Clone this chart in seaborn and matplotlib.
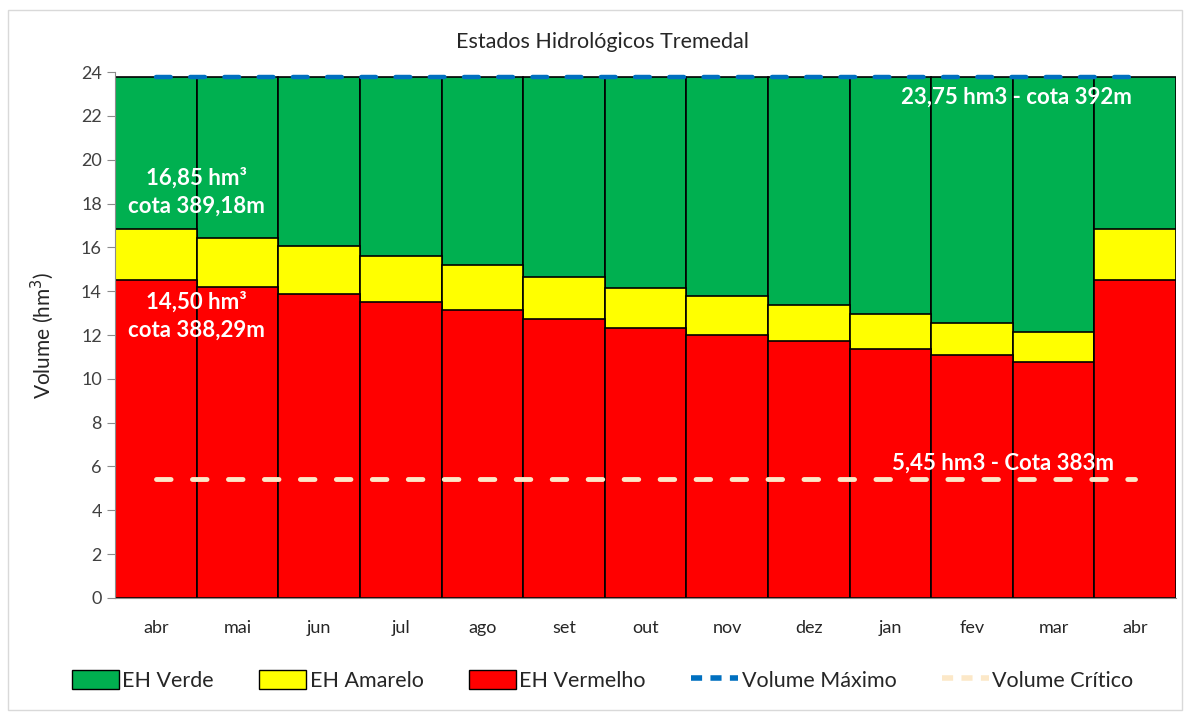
import matplotlib
matplotlib.use("Agg")
import matplotlib.pyplot as plt
import matplotlib.patches as mpatches
from matplotlib.lines import Line2D
from matplotlib.ticker import MultipleLocator, FixedLocator
import numpy as np
import pandas as pd
import seaborn as sns

months = ["abr", "mai", "jun", "jul", "ago", "set", "out", "nov", "dez", "jan", "fev", "mar", "abr"]
vermelho = [14.50, 14.17, 13.87, 13.52, 13.14, 12.73, 12.30, 12.00, 11.72, 11.37, 11.09, 10.78, 14.50]
amarelo = [16.85, 16.44, 16.06, 15.62, 15.18, 14.64, 14.13, 13.76, 13.37, 12.96, 12.53, 12.15, 16.85]
verde = [23.75] * 13
vol_max = [23.75] * 13
vol_crit = [5.45] * 13

pos = list(range(len(months)))
df = pd.DataFrame({"pos": pos, "verde": verde, "amarelo": amarelo,
                   "vermelho": vermelho, "vmax": vol_max, "vcrit": vol_crit})

sns.set_style("white")
plt.rcParams["font.family"] = ["Lato", "DejaVu Sans"]

fig = plt.figure(figsize=(11.86, 7.13), dpi=100)
ax = fig.add_axes([0.097, 0.1613, 0.8946, 0.7377])

green, yellow, red = "#00B050", "#FFFF00", "#FF0000"
blue, cream = "#0070C0", "#FCE8C8"

for col, c in [("verde", green), ("amarelo", yellow), ("vermelho", red)]:
    sns.barplot(data=df, x="pos", y=col, color=c, width=1.0, edgecolor="black",
                linewidth=1.2, saturation=1, ax=ax)

sns.lineplot(data=df, x="pos", y="vmax", ax=ax, color=blue, linewidth=3.2)
sns.lineplot(data=df, x="pos", y="vcrit", ax=ax, color=cream, linewidth=3.5)
for ln in ax.lines[-2:]:
    ln.set_dash_capstyle("round")
ax.lines[-2].set_dashes([3.3, 4.4])
ax.lines[-1].set_dashes([3.0, 4.4])

ax.set_xlim(-0.5, 12.5)
ax.set_ylim(0, 24)
ax.set_xticks(pos)
ax.set_xticklabels(months, fontsize=13, color="#262626")
ax.xaxis.set_minor_locator(FixedLocator(np.arange(-0.5, 13, 1)))
ax.tick_params(axis="x", which="major", length=0, pad=16)
ax.tick_params(axis="x", which="minor", length=7, color="#8C8C8C", direction="out")
ax.yaxis.set_major_locator(MultipleLocator(2))
ax.yaxis.set_minor_locator(MultipleLocator(0.4))
ax.tick_params(axis="y", which="major", length=6, color="#8C8C8C", direction="out",
               labelsize=13, labelcolor="#404040", left=True)
ax.tick_params(axis="y", which="minor", length=3.5, color="#A6A6A6", direction="in", left=True)

for s in ["top", "right"]:
    ax.spines[s].set_visible(False)
for s in ["left", "bottom"]:
    ax.spines[s].set_color("#8C8C8C")

ax.set_xlabel("")
ax.set_ylabel("Volume (hm$^3$)", fontsize=15, color="#262626", labelpad=18)
fig.text(0.508, 0.941, "Estados Hidrológicos Tremedal", fontsize=15.5, color="#262626",
         ha="center", va="center")

tk = dict(color="white", fontweight="bold", fontsize=16, ha="center", va="center")
ax.text(0.5, 19.15, "16,85 hm³", **tk)
ax.text(0.5, 17.88, "cota 389,18m", **tk)
ax.text(0.5, 13.5, "14,50 hm³", **tk)
ax.text(0.5, 12.2, "cota 388,29m", **tk)
ax.text(10.55, 22.84, "23,75 hm3 - cota 392m", **tk)
ax.text(10.38, 6.16, "5,45 hm3 - Cota 383m", **tk)

handles = [
    mpatches.Patch(facecolor=green, edgecolor="black", label="EH Verde"),
    mpatches.Patch(facecolor=yellow, edgecolor="black", label="EH Amarelo"),
    mpatches.Patch(facecolor=red, edgecolor="black", label="EH Vermelho"),
    Line2D([0], [0], color=blue, lw=4, dashes=[2, 1.5], label="Volume Máximo"),
    Line2D([0], [0], color=cream, lw=4, dashes=[2, 1.5], label="Volume Crítico"),
]
fig.legend(handles=handles, loc="center", bbox_to_anchor=(0.508, 0.046), ncol=5,
           frameon=False, fontsize=15.5, handlelength=2.2, handleheight=1.0,
           handletextpad=0.15, columnspacing=2.1)

fig.patches.append(mpatches.Rectangle((0.007, 0.004), 0.99, 0.982, transform=fig.transFigure,
                                      fill=False, edgecolor="#D9D9D9", linewidth=1))

fig.savefig("out.png", dpi=100)
